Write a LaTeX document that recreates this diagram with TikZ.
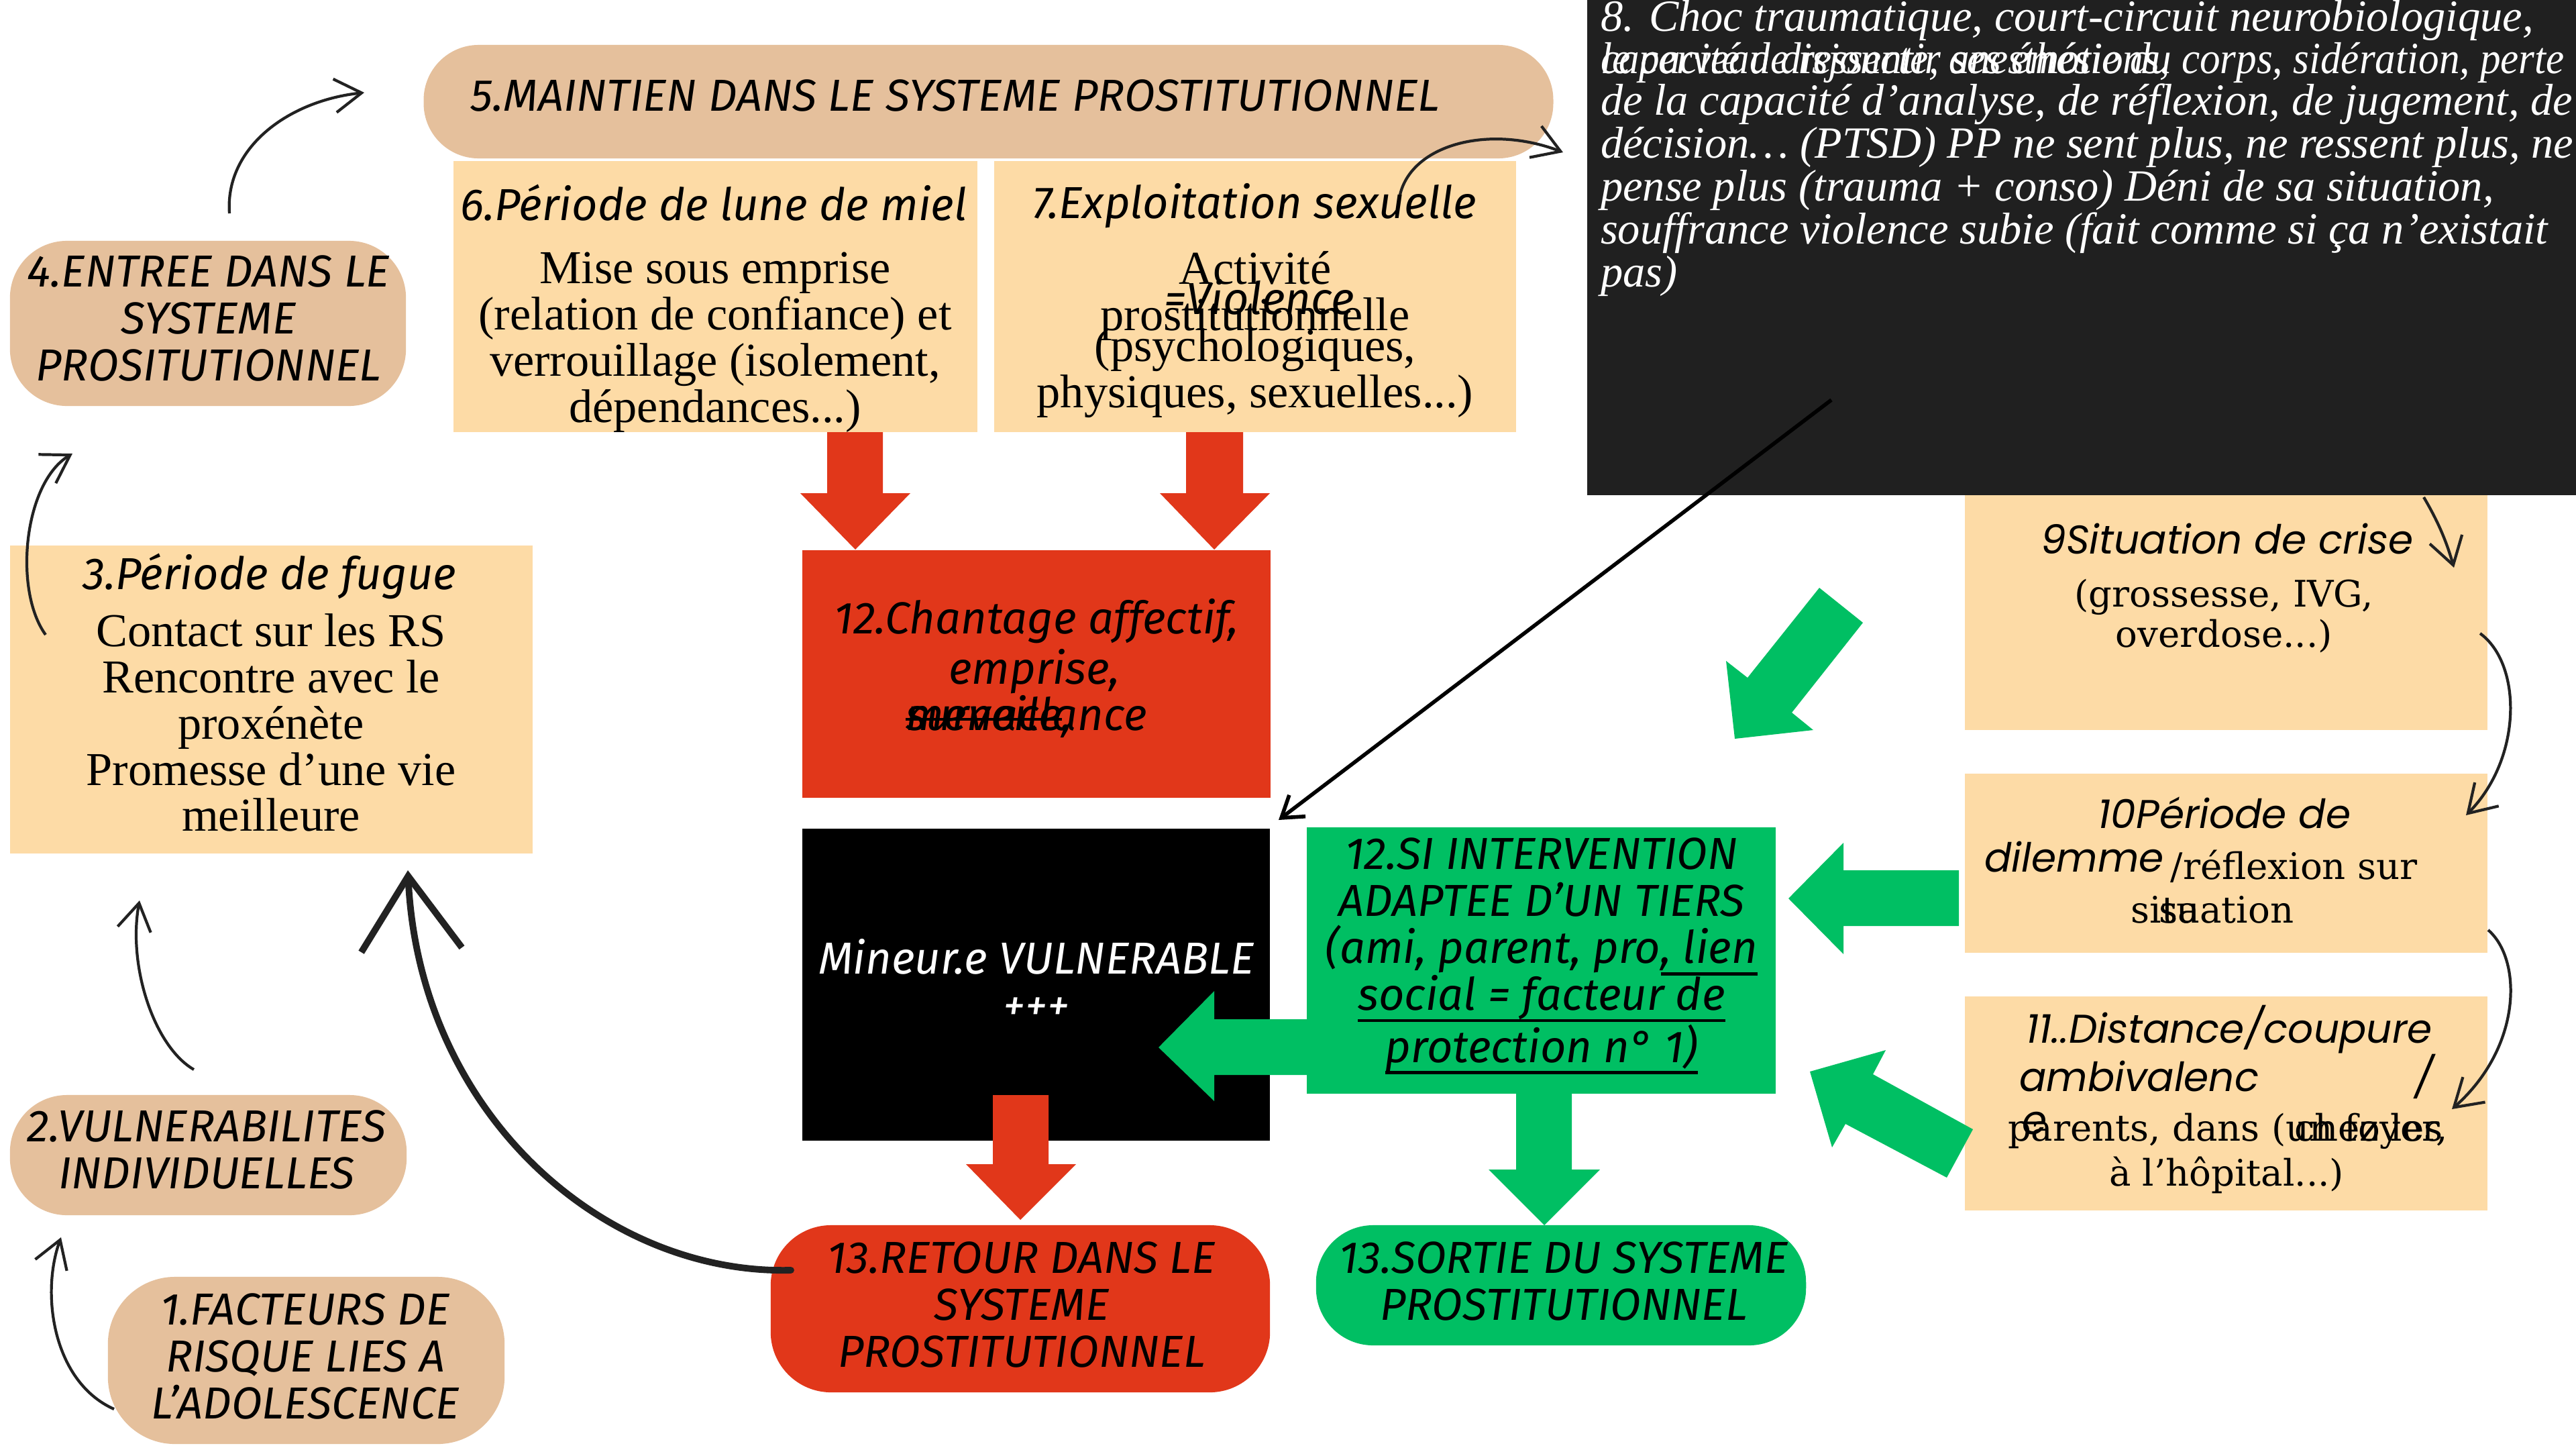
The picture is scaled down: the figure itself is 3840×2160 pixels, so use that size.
\documentclass[tikz,border=0pt]{standalone}
\usepackage{fontspec}
\usetikzlibrary{arrows.meta}
\newfontfamily\ttlfont{Fira Sans}
\newfontfamily\serfont{Liberation Serif}
\newfontfamily\wserfont{DejaVu Serif}
\newfontfamily\popfont{Poppins}
\definecolor{tanc}{HTML}{E5C09C}
\definecolor{peach}{HTML}{FDDBA6}
\definecolor{redc}{HTML}{E1371A}
\definecolor{greenc}{HTML}{00BF63}
\definecolor{darkc}{HTML}{202020}
\definecolor{inkc}{HTML}{222222}
\newcommand\myul[1]{\setbox0\hbox{#1}\rlap{\rule[-5pt]{\wd0}{1.4pt}}\box0}
\newcommand\mysout[1]{\setbox0\hbox{#1}\rlap{\rule[4pt]{\wd0}{1.2pt}}\box0}
\begin{document}
\begin{tikzpicture}[x=0.01cm,y=-0.01cm,
 every node/.style={inner sep=0pt, outer sep=0pt},
 tanbox/.style={fill=tanc},
 peachbox/.style={fill=peach},
 ttl/.style={font=\ttlfont\itshape\fontsize{19}{19.9}\selectfont, align=center},
 bod/.style={font=\serfont\fontsize{20}{19.6}\selectfont, align=center},
 wser/.style={font=\wserfont\fontsize{15.5}{17}\selectfont, align=center},
 pop/.style={font=\popfont\itshape\fontsize{17}{20}\selectfont, align=center},
 eight/.style={font=\serfont\itshape\fontsize{18.9}{18.2}\selectfont, align=left, text=white},
 thin/.style={draw=inkc, line width=1.2pt, -{Straight Barb[length=4mm,width=5mm]}},
 thick/.style={draw=inkc, line width=2.8pt, line cap=round, -{Straight Barb[length=11mm,width=15mm]}}
]
\useasboundingbox (0,0) rectangle (3840,2160);
\fill[white] (0,0) rectangle (3840,2160);

% ---------- boxes ----------
\node[tanbox, minimum width=16.83cm, minimum height=1.69cm, rounded corners=0.82cm] (b5) at (1473.5,151.5) {};
\node[peachbox, minimum width=7.81cm, minimum height=4.04cm] (b6) at (1066.5,442) {};
\node[peachbox, minimum width=7.78cm, minimum height=4.04cm] (b7) at (1871,442) {};
\node[peachbox, minimum width=7.79cm, minimum height=3.58cm] (b9) at (3318.5,909) {};
\node[fill=darkc, minimum width=14.74cm, minimum height=7.38cm] (b8) at (3103,369) {};
\node[peachbox, minimum width=7.79cm, minimum height=2.67cm] (b10) at (3318.5,1286.5) {};
\node[peachbox, minimum width=7.79cm, minimum height=3.19cm] (b11) at (3318.5,1644.5) {};
\node[peachbox, minimum width=7.79cm, minimum height=4.59cm] (b3) at (404.5,1042.5) {};
\node[tanbox, minimum width=5.90cm, minimum height=2.46cm, rounded corners=0.85cm] (b4) at (310,482) {};
\node[tanbox, minimum width=5.91cm, minimum height=1.79cm, rounded corners=0.85cm] (b2) at (310.5,1721.5) {};
\node[tanbox, minimum width=5.91cm, minimum height=2.49cm, rounded corners=1.0cm] (b1) at (456.5,2027.5) {};
\node[fill=redc, minimum width=6.98cm, minimum height=3.69cm] (b12) at (1545,1004.5) {};
\node[fill=black, minimum width=6.97cm, minimum height=4.65cm] (bv) at (1544.5,1467.5) {};
\node[fill=greenc, minimum width=6.99cm, minimum height=3.97cm] (bg) at (2297.5,1431.5) {};
\node[fill=redc, minimum width=7.44cm, minimum height=2.49cm, rounded corners=0.9cm] (b13r) at (1521,1950.5) {};
\node[fill=greenc, minimum width=7.30cm, minimum height=1.79cm, rounded corners=0.85cm] (b13s) at (2327,1915.5) {};

% ---------- block arrows ----------
\fill[redc] (1233,644) -- (1316,644) -- (1316,735) -- (1357,735) -- (1275,819) -- (1193,735) -- (1233,735) -- cycle;
\fill[redc] (1768,644) -- (1853,644) -- (1853,735) -- (1893,735) -- (1810,819) -- (1729,735) -- (1768,735) -- cycle;
\fill[redc] (1480,1632) -- (1563,1632) -- (1563,1735) -- (1604,1735) -- (1521,1818) -- (1440,1735) -- (1480,1735) -- cycle;
\fill[greenc] (1948,1519) -- (1810,1519) -- (1810,1477) -- (1727,1561) -- (1810,1641) -- (1810,1602) -- (1948,1602) -- cycle;
\fill[greenc] (2260,1630) -- (2343,1630) -- (2343,1743) -- (2385,1743) -- (2302,1826) -- (2219,1743) -- (2260,1743) -- cycle;
\fill[greenc] (2920,1297) -- (2748,1297) -- (2748,1256) -- (2666,1339) -- (2748,1422) -- (2748,1380) -- (2920,1380) -- cycle;
\fill[greenc] (2712,876) -- (2777,928) -- (2671,1062) -- (2703,1088) -- (2586,1101) -- (2573,985) -- (2605,1010) -- cycle;
\fill[greenc] (2698,1597) -- (2811,1565) -- (2792,1601) -- (2941,1683) -- (2902,1755) -- (2751,1675) -- (2731,1710) -- cycle;

% ---------- texts ----------
\node[ttl] (t5) at (1424,142) {5.MAINTIEN DANS LE SYSTEME PROSTITUTIONNEL};
\node[ttl] (t4) at (311,474) {4.ENTREE DANS LE\\SYSTEME\\PROSITUTIONNEL};
\node[ttl] (t3a) at (402,859) {3.Période de fugue};
\node[bod] (t3b) at (404,1077) {Contact sur les RS\\Rencontre avec le\\proxénète\\Promesse d’une vie\\meilleure};
\node[ttl] (t2) at (308,1713) {2.VULNERABILITES\\INDIVIDUELLES};
\node[ttl] (t1) at (455,2021) {1.FACTEURS DE\\RISQUE LIES A\\L’ADOLESCENCE};
\node[ttl] (t6a) at (1064,302) {6.Période de lune de miel};
\node[bod] (t6b) at (1066,510) {Mise sous emprise\\(relation de confiance) et\\verrouillage (isolement,\\dépendances...)};
\node[ttl] (t7a) at (1870,307) {7.Exploitation sexuelle};
\node[bod] (t7b) at (1871,441) {Activité\\prostitutionnelle};
\node[bod] (t7c) at (1871,556) {(psychologiques,\\physiques, sexuelles...)};
\node[ttl] (t7d) at (1877,443) {=Violence};
\node[ttl] (t12a) at (1545,926) {12.Chantage affectif,};
\node[ttl] (t12b) at (1542,1001) {emprise,};
\node[ttl, anchor=base west] (t12c) at (1350,1088) {surveillance};
\node[ttl, anchor=base west] (t12d) at (1350,1088) {\mysout{menace},};
\node[ttl, text=white] (tv) at (1545,1460) {Mineur.e VULNERABLE\\+++};
\node[ttl] (tg) at (2298,1425) {12.SI INTERVENTION\\ADAPTEE D’UN TIERS\\(ami, parent, pro\myul{, lien}\\\myul{social = facteur de}\\\myul{protection n° 1)}};
\node[ttl] (t13r) at (1523,1944) {13.RETOUR DANS LE\\SYSTEME\\PROSTITUTIONNEL};
\node[ttl] (t13s) at (2331,1909) {13.SORTIE DU SYSTEME\\PROSTITUTIONNEL};

\node[eight, anchor=west] (t8a) at (2386,31) {8. Choc traumatique, court-circuit neurobiologique,};
\node[eight, anchor=west] (t8b) at (2386,93) {\scalebox{0.92}[1]{le cerveau disjoncte, anesthésie du corps, sidération, perte}};
\node[eight, anchor=west] (t8c) at (2386,93) {\scalebox{0.92}[1]{capacité de ressentir ses émotions,}};
\node[eight, anchor=west] (t8d) at (2386,283) {de la capacité d’analyse, de réflexion, de jugement, de\\décision… (PTSD) PP ne sent plus, ne ressent plus, ne\\pense plus (trauma + conso) Déni de sa situation,\\souffrance violence subie (fait comme si ça n’existait\\pas)};

\node[pop] (t9a) at (3320,803) {9Situation de crise};
\node[wser] (t9b) at (3315,918) {(grossesse, IVG,\\overdose...)};
\node[pop] (t10a) at (3316,1211) {10Période de};
\node (t10b) at (3281,1285) {{\popfont\itshape\fontsize{17}{20}\selectfont\raisebox{3pt}{dilemme}\,}{\wserfont\fontsize{15.5}{17}\selectfont/réflexion sur}};
\node[wser, anchor=base] (t10c) at (3298,1375) {situation};
\node[wser, anchor=base west] (t10d) at (3218,1375) {sa};
\node[pop] (t11a) at (3323,1534) {11..Distance/coupure};
\node[pop, anchor=west] (t11b) at (3010,1604) {ambivalenc};
\node[pop] (t11c) at (3614,1604) {/};
\node[pop, anchor=west] (t11d) at (3014,1674) {e};
\node[wser, anchor=base west] (t11e) at (2993,1700) {parents, dans (un foyer,};
\node[wser, anchor=base west] (t11f) at (3420,1700) {chez les};
\node[wser] (t11g) at (3319,1751) {à l’hôpital...)};

% ---------- hand-drawn connectors ----------
\coordinate (a7s) at (2087,290);   \coordinate (a8e) at (2330,227);
\coordinate (a4s) at (342,318);    \coordinate (a5e) at (543,138);
\coordinate (a3s) at (68,946);     \coordinate (a4e) at (108,676);
\coordinate (a2s) at (289,1594);   \coordinate (a3e) at (208,1342);
\coordinate (a1s) at (170,2100);   \coordinate (a2e) at (91,1844);
\coordinate (ars) at (1179,1893);  \coordinate (are) at (608,1297);
\coordinate (a8s) at (3613,741);   \coordinate (a9e) at (3658,846);
\coordinate (a9s) at (3697,944);   \coordinate (a10e) at (3676,1215);
\coordinate (a10s) at (3709,1386); \coordinate (a11e) at (3655,1653);
\coordinate (a8x) at (2730,596);   \coordinate (avx) at (1906,1222);

\draw[thin] (a7s) .. controls (2105,215) and (2220,185) .. (a8e);
\draw[thin] (a4s) .. controls (335,220) and (430,150) .. (a5e);
\draw[thin] (a3s) .. controls (20,880) and (35,720) .. (a4e);
\draw[thin] (a2s) .. controls (230,1560) and (190,1440) .. (a3e);
\draw[thin] (a1s) .. controls (80,2060) and (60,1930) .. (a2e);
\draw[thin] (a8s) .. controls (3630,770) and (3645,800) .. (a9e);
\draw[thin] (a9s) .. controls (3760,990) and (3760,1130) .. (a10e);
\draw[thin] (a10s) .. controls (3760,1430) and (3760,1560) .. (a11e);
\draw[thick] (ars) .. controls (900,1900) and (625,1660) .. (are);
\draw[black, line width=1.6pt, -{Straight Barb[length=3mm,width=4mm]}] (a8x) -- (avx);
\end{tikzpicture}
\end{document}
